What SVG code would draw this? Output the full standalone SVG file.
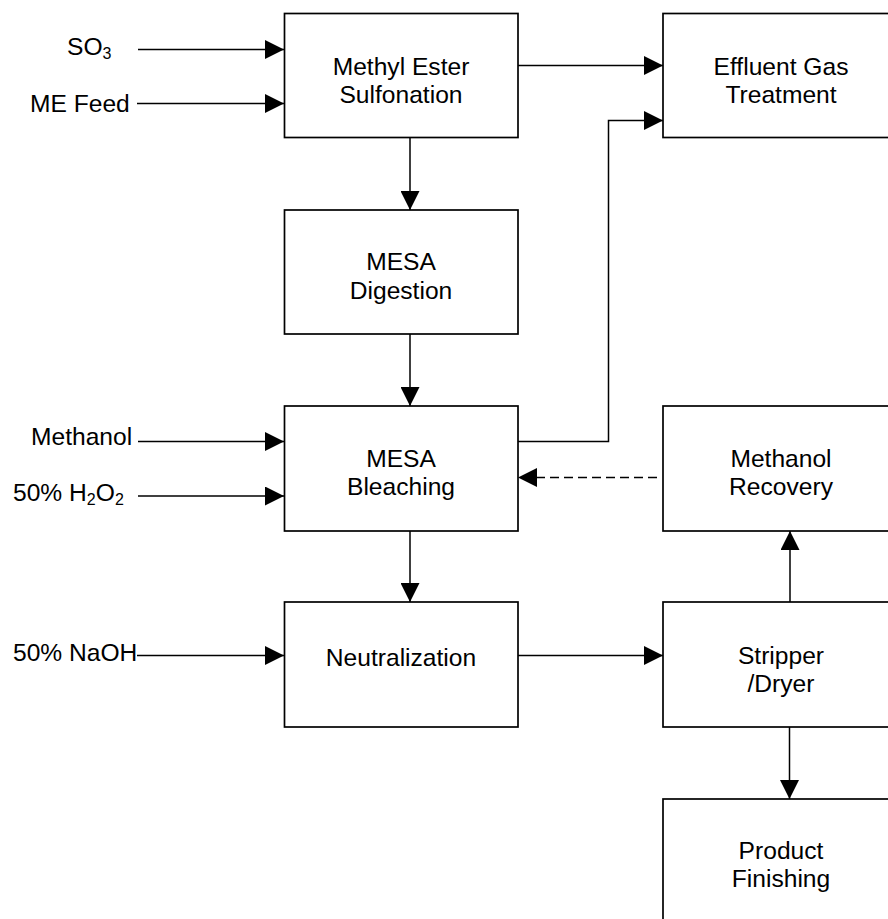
<svg xmlns="http://www.w3.org/2000/svg" width="888" height="919" viewBox="0 0 888 919">
<style>
.box{fill:#fff;stroke:#000;stroke-width:1.7}
.t{font-family:"Liberation Sans",Arial,sans-serif;font-size:24.6px;fill:#000}
.c{text-anchor:middle}
.ln{fill:none;stroke:#000;stroke-width:1.5}
.dash{stroke-dasharray:9 5;stroke-width:1.7}
.sub{font-size:16px}
</style>
<defs>
<marker id="ah" viewBox="0 0 19 19" refX="19" refY="9.5" markerWidth="19" markerHeight="19" markerUnits="userSpaceOnUse" orient="auto">
<path d="M0,0 L19,9.5 L0,19 z" fill="#000"/>
</marker>
</defs>
<rect width="888" height="919" fill="#fff"/>
<g id="connectors">
<line class="ln" x1="138" y1="49.5" x2="284" y2="49.5" marker-end="url(#ah)"/>
<line class="ln" x1="137" y1="103.5" x2="284" y2="103.5" marker-end="url(#ah)"/>
<line class="ln" x1="518" y1="65.5" x2="663" y2="65.5" marker-end="url(#ah)"/>
<polyline class="ln" points="518,441.5 608.5,441.5 608.5,120.5 663,120.5" marker-end="url(#ah)"/>
<line class="ln" x1="410" y1="137" x2="410" y2="210" marker-end="url(#ah)"/>
<line class="ln" x1="410" y1="334" x2="410" y2="406" marker-end="url(#ah)"/>
<line class="ln" x1="410" y1="531" x2="410" y2="602" marker-end="url(#ah)"/>
<line class="ln" x1="138" y1="441.5" x2="284" y2="441.5" marker-end="url(#ah)"/>
<line class="ln" x1="138" y1="496" x2="284" y2="496" marker-end="url(#ah)"/>
<line class="ln dash" x1="657" y1="477.5" x2="518" y2="477.5" marker-end="url(#ah)"/>
<line class="ln" x1="137" y1="655.5" x2="284" y2="655.5" marker-end="url(#ah)"/>
<line class="ln" x1="518" y1="655.5" x2="663" y2="655.5" marker-end="url(#ah)"/>
<line class="ln" x1="790" y1="602" x2="790" y2="531" marker-end="url(#ah)"/>
<line class="ln" x1="789.5" y1="727" x2="789.5" y2="799" marker-end="url(#ah)"/>
</g>
<g id="labels">
<text class="t" x="67" y="54.5">SO<tspan class="sub" dy="4">3</tspan></text>
<text class="t" x="30" y="111.5">ME Feed</text>
<text class="t" x="31" y="445">Methanol</text>
<text class="t" x="13" y="501">50% H<tspan class="sub" dy="4">2</tspan><tspan dy="-4">O</tspan><tspan class="sub" dy="4">2</tspan></text>
<text class="t" x="13" y="660.5">50% NaOH</text>
</g>
<g id="sulfonation">
<rect class="box" x="284.5" y="13.5" width="233.5" height="124"/>
<text class="t c" x="401" y="74.5">Methyl Ester</text>
<text class="t c" x="401" y="102.5">Sulfonation</text>
</g>
<g id="effluent">
<rect class="box" x="663" y="13.5" width="240" height="124"/>
<text class="t c" x="781" y="74.5">Effluent Gas</text>
<text class="t c" x="781" y="102.5">Treatment</text>
</g>
<g id="digestion">
<rect class="box" x="284.5" y="210" width="233.5" height="124"/>
<text class="t c" x="401" y="270">MESA</text>
<text class="t c" x="401" y="299">Digestion</text>
</g>
<g id="bleaching">
<rect class="box" x="284.5" y="406" width="233.5" height="125"/>
<text class="t c" x="401" y="467">MESA</text>
<text class="t c" x="401" y="495">Bleaching</text>
</g>
<g id="recovery">
<rect class="box" x="663" y="406" width="240" height="125"/>
<text class="t c" x="781" y="467">Methanol</text>
<text class="t c" x="781" y="494.5">Recovery</text>
</g>
<g id="neutralization">
<rect class="box" x="284.5" y="602" width="233.5" height="125"/>
<text class="t c" x="401" y="666">Neutralization</text>
</g>
<g id="stripper">
<rect class="box" x="663" y="602" width="240" height="125"/>
<text class="t c" x="781" y="663.5">Stripper</text>
<text class="t c" x="781" y="691.5">/Dryer</text>
</g>
<g id="finishing">
<rect class="box" x="663" y="799" width="240" height="140"/>
<text class="t c" x="781" y="858.5">Product</text>
<text class="t c" x="781" y="886.5">Finishing</text>
</g>
</svg>
